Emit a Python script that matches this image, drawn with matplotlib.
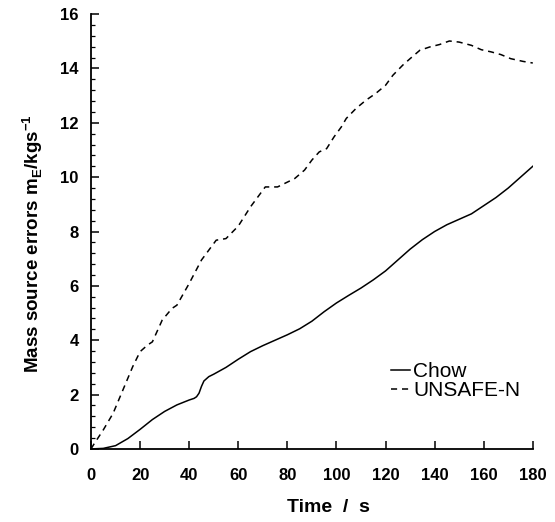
import numpy as np
import matplotlib
matplotlib.use('Agg')
import matplotlib.pyplot as plt
from matplotlib.ticker import MultipleLocator

plt.rcParams['font.family'] = ['Liberation Sans', 'DejaVu Sans']

# Chow scheme: mass source error against time
chow_t = [0, 5, 10, 15, 20, 25, 30, 35, 40, 42, 43, 44, 45, 46, 48, 50, 55, 60, 65,
          70, 75, 80, 85, 90, 95, 100, 105, 110, 115, 120, 125, 130, 135, 140, 145,
          150, 155, 160, 165, 170, 175, 180]
chow_err = [0, 0.02, 0.12, 0.38, 0.72, 1.08, 1.38, 1.62, 1.8, 1.86, 1.92, 2.05, 2.3,
            2.5, 2.66, 2.75, 3.0, 3.3, 3.58, 3.8, 4.0, 4.2, 4.42, 4.7, 5.05, 5.37,
            5.65, 5.92, 6.22, 6.55, 6.95, 7.35, 7.7, 8.0, 8.25, 8.45, 8.65, 8.95,
            9.25, 9.6, 10.0, 10.4]

# UNSAFE-N scheme
unsafe_t = [0, 1, 5, 9, 13, 17, 20, 23, 25, 29, 33, 35, 40, 45, 51, 55, 60, 65, 71,
            76, 83, 87, 90, 93, 96, 99, 102, 104, 108, 112, 116, 120, 123, 127, 130,
            134, 138, 142, 146, 150, 155, 159, 163, 167, 171, 176, 180]
unsafe_err = [0, 0.15, 0.7, 1.31, 2.17, 3.03, 3.58, 3.82, 3.94, 4.74, 5.17, 5.29,
              6.09, 6.95, 7.68, 7.74, 8.2, 8.91, 9.64, 9.64, 9.95, 10.26, 10.63,
              10.93, 11.05, 11.48, 11.85, 12.16, 12.53, 12.83, 13.08, 13.38, 13.75,
              14.12, 14.36, 14.67, 14.79, 14.88, 15.01, 14.97, 14.85, 14.69, 14.61,
              14.51, 14.36, 14.26, 14.2]

fig = plt.figure(figsize=(5.55, 5.22), dpi=100)
ax = fig.add_axes([0.164, 0.140, 0.796, 0.833])

ax.plot(chow_t, chow_err, color='black', lw=1.1, label='Chow')
ax.plot(unsafe_t, unsafe_err, color='black', lw=1.1, dashes=(4, 3.2),
        label='UNSAFE-N')

ax.set_xlim(0, 180)
ax.set_ylim(0, 16)
ax.xaxis.set_major_locator(MultipleLocator(20))
ax.yaxis.set_major_locator(MultipleLocator(2))
ax.yaxis.set_minor_locator(MultipleLocator(0.4))

for side in ['top', 'right']:
    ax.spines[side].set_visible(False)
for side in ['left', 'bottom']:
    ax.spines[side].set_linewidth(1.3)

ax.tick_params(axis='both', which='major', direction='in', length=6, width=1.1,
               labelsize=12)
ax.tick_params(axis='x', which='major', pad=13.5)
ax.tick_params(axis='y', which='major', pad=9)
ax.tick_params(axis='y', which='minor', direction='in', length=3, width=0.9)
for lab in ax.get_xticklabels() + ax.get_yticklabels():
    lab.set_fontweight('bold')

ax.set_xlabel('Time  /  s', fontsize=14, fontweight='bold')
ax.xaxis.label.set_va('center')
ax.xaxis.set_label_coords(0.538, -0.134)
ax.set_ylabel('Mass source errors m$_\\mathregular{E}$/kgs$^\\mathregular{-1}$',
              fontsize=13.5, fontweight='bold')
ax.yaxis.label.set_va('center')
ax.yaxis.set_label_coords(-0.133, 0.471)

ax.legend(loc='center left', bbox_to_anchor=(0.68, 0.156), frameon=False,
          fontsize=15, handlelength=0.9, handletextpad=0.15, labelspacing=0.0,
          borderpad=0, borderaxespad=0)

fig.savefig('out.png', dpi=100)
